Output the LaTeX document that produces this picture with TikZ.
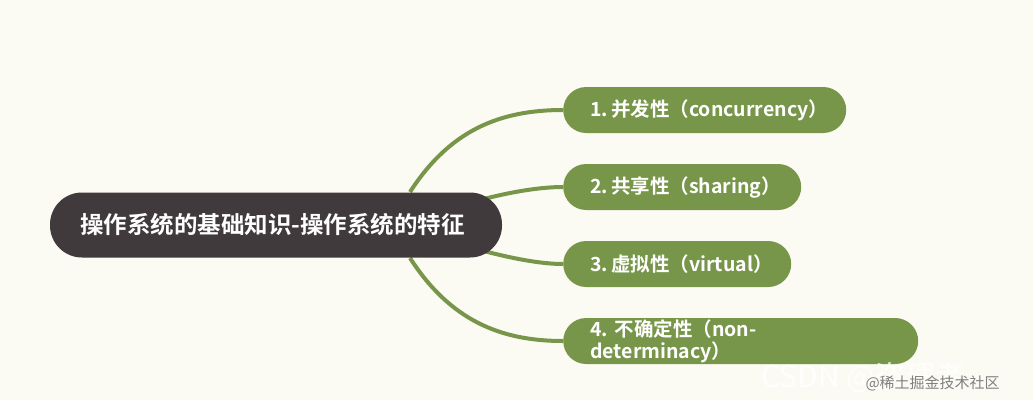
\documentclass[tikz,border=0pt]{standalone}
\usepackage{fontspec}
\setmainfont{Noto Sans CJK SC}
\newfontfamily\cjkb{Noto Sans CJK SC Bold}
\begin{document}
\begin{tikzpicture}[x=1pt,y=-1pt,
  root/.style={fill=rootc,rounded corners=32pt,minimum height=65pt,text=white,font=\cjkb\fontsize{23.5}{26}\selectfont,inner ysep=0pt,inner xsep=30pt,text width=392pt,align=left},
  leaf/.style={fill=leafc,rounded corners=23pt,minimum height=46pt,text=white,font=\cjkb\fontsize{19.5}{22}\selectfont,inner ysep=0pt,inner xsep=27pt,align=left,anchor=west},
  link/.style={draw=leafc,line width=4pt}]
\definecolor{bg}{HTML}{FCFBF3}
\definecolor{rootc}{HTML}{403A3C}
\definecolor{leafc}{HTML}{78964A}
\fill[bg] (0,0) rectangle (1033,400);
\useasboundingbox (0,0) rectangle (1033,400);
\coordinate (s1) at (410,192);
\coordinate (s2) at (480,200);
\coordinate (s3) at (480,250);
\coordinate (s4) at (410,258);
\node[leaf,text width=229pt] (c1) at (563,110) {1.\,并发性（concurrency）};
\node[leaf,text width=184pt] (c2) at (563,187) {2.\,共享性（sharing）};
\node[leaf,text width=174pt] (c3) at (563,264) {3.\,虚拟性（virtual）};
\node[leaf,text width=301pt] (c4) at (563,341) {4.\ 不确定性（non-determinacy）};
\draw[link] (s1) .. controls (450,130) and (500,110) .. (c1.west);
\draw[link] (s2) .. controls (510,192) and (540,187) .. (c2.west);
\draw[link] (s3) .. controls (510,258) and (540,264) .. (c3.west);
\draw[link] (s4) .. controls (450,320) and (500,341) .. (c4.west);
\node[root] (r) at (276,225) {操作系统的基础知识-操作系统的特征};
\node[text=white,opacity=0.8,font=\fontsize{30}{32}\selectfont,anchor=west] (w1) at (758,377) {CSDN @盗理者};
\node[text=gray,font=\fontsize{15}{17}\selectfont,anchor=west] (w2) at (862,383) {@稀土掘金技术社区};
\end{tikzpicture}
\end{document}
